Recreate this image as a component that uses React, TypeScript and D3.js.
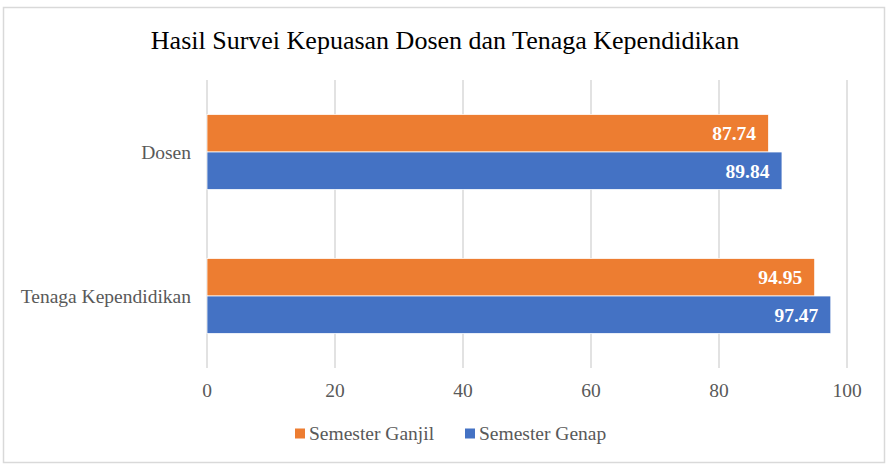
import React from "react";
import * as d3 from "d3";

const categories = ["Dosen", "Tenaga Kependidikan"];
const seriesNames = ["Semester Ganjil", "Semester Genap"];
const ganjil = [87.74, 94.95];
const genap = [89.84, 97.47];
const ticks = [0, 20, 40, 60, 80, 100];
const colors = ["#ED7D31", "#4472C4"];

const W = 889;
const H = 474;

export default function App() {
  const x = d3.scaleLinear().domain([0, 100]).range([207, 847]);
  const y = d3.scaleBand().domain(categories).range([80, 368]);
  const inner = d3.scaleBand().domain(seriesNames).range([0, 75]);
  const yOff = (y.bandwidth() - 75) / 2;
  const series = [ganjil, genap];
  const font = "'Liberation Serif', 'Times New Roman', serif";
  const legendX = [295, 465];

  return (
    <svg width={W} height={H} style={{ position: "absolute", left: 0, top: 0, fontFamily: font }}>
      <rect x={0} y={0} width={W} height={H} fill="#fff" />
      <rect x={3.5} y={7.5} width={881} height={455} fill="#fff" stroke="#d9d9d9" strokeWidth={1.5} />
      <text x={445} y={49} textAnchor="middle" fontSize={26} fill="#000">
        Hasil Survei Kepuasan Dosen dan Tenaga Kependidikan
      </text>
      {ticks.map((t) => (
        <g key={t}>
          <line x1={x(t)} x2={x(t)} y1={80} y2={368} stroke="#d9d9d9" strokeWidth={1.5} />
          <text x={x(t)} y={397} textAnchor="middle" fontSize={19.5} fill="#595959">
            {t}
          </text>
        </g>
      ))}
      {categories.map((c, ci) => (
        <g key={c}>
          <text x={191} y={(y(c) as number) + y.bandwidth() / 2 + 7} textAnchor="end" fontSize={19.5} fill="#595959">
            {c}
          </text>
          {seriesNames.map((s, si) => {
            const v = series[si][ci];
            const by = (y(c) as number) + yOff + (inner(s) as number);
            return (
              <g key={s}>
                <rect x={x(0)} y={by} width={x(v) - x(0)} height={inner.bandwidth()} fill={colors[si]} stroke="#fff" strokeWidth={0.75} />
                <text x={x(v) - 12.5} y={by + inner.bandwidth() / 2 + 7} textAnchor="end" fontSize={19.5} fontWeight="bold" fill="#fff">
                  {v.toFixed(2)}
                </text>
              </g>
            );
          })}
        </g>
      ))}
      {seriesNames.map((s, si) => {
        const lx = legendX[si];
        return (
          <g key={s}>
            <rect x={lx} y={428.5} width={10} height={10} fill={colors[si]} />
            <text x={lx + 14} y={439.5} fontSize={19.5} fill="#595959">
              {s}
            </text>
          </g>
        );
      })}
    </svg>
  );
}
